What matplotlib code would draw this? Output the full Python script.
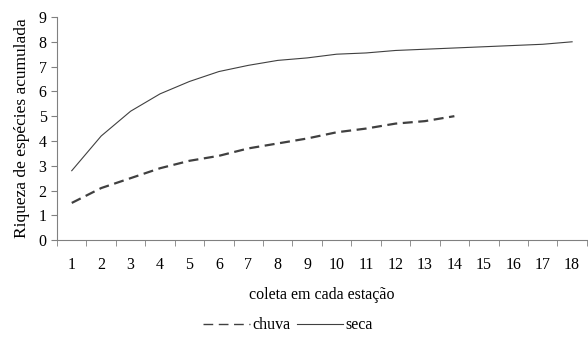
import matplotlib.pyplot as plt
import numpy as np

plt.rcParams['font.family'] = ['Liberation Serif', 'DejaVu Serif']

coleta_seca = list(range(1, 19))
seca = [2.8, 4.2, 5.2, 5.9, 6.4, 6.8, 7.05, 7.25, 7.35, 7.5, 7.55, 7.65, 7.7, 7.75, 7.8, 7.85, 7.9, 8.0]
coleta_chuva = list(range(1, 15))
chuva = [1.5, 2.1, 2.5, 2.9, 3.2, 3.4, 3.7, 3.9, 4.1, 4.35, 4.5, 4.7, 4.8, 5.0]

fig = plt.figure(figsize=(5.88, 3.47), dpi=100)
ax = fig.add_axes([0.097, 0.308, 0.901, 0.643])

ax.plot(coleta_chuva, chuva, color='#404040', lw=1.6, ls=(0, (4.5, 2.5)), label='chuva')
ax.plot(coleta_seca, seca, color='#404040', lw=0.8, label='seca')

ax.set_xlim(0.5, 18.5)
ax.set_ylim(0, 9)
ax.set_yticks(range(0, 10))
ax.set_xticks(coleta_seca)
ax.set_xticks(np.arange(0.5, 19, 1), minor=True)
ax.tick_params(axis='x', which='major', length=0, pad=12, labelsize=11.5)
ax.tick_params(axis='x', which='minor', length=4, color='#808080')
ax.tick_params(axis='y', length=4, color='#808080', labelsize=11.5)

for s in ['top', 'right']:
    ax.spines[s].set_visible(False)
for s in ['left', 'bottom']:
    ax.spines[s].set_color('#808080')

ax.set_xlabel('coleta em cada estação', fontsize=11.5, labelpad=10)
ax.set_ylabel('Riqueza de espécies acumulada', fontsize=12.5, labelpad=6)

leg = fig.legend(loc='center', bbox_to_anchor=(0.49, 0.063), ncol=2, frameon=False,
                 fontsize=11.5, handlelength=2.9, handletextpad=0.15, columnspacing=0.4)
leg.get_lines()[0].set_linewidth(1.0)
leg.get_lines()[0].set_linestyle((0, (7, 4)))

fig.savefig('out.png', dpi=100)
